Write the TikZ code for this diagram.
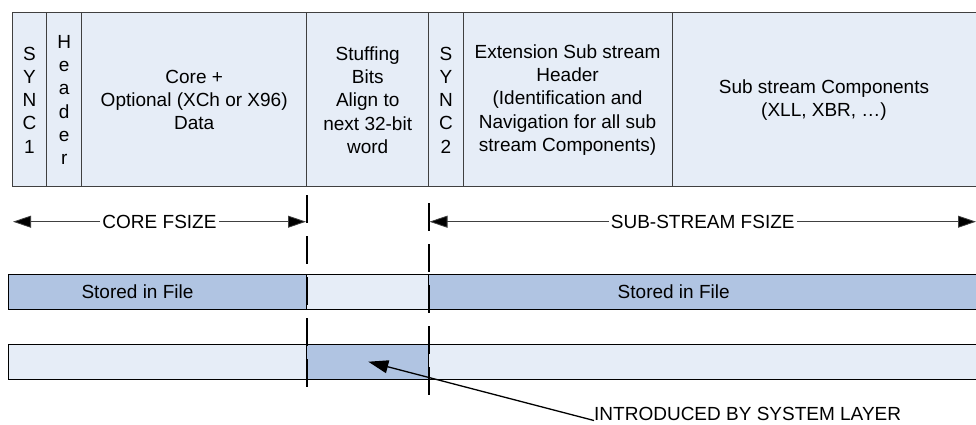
\documentclass[tikz,border=0pt]{standalone}
\usepackage{fontspec}
\setmainfont{Liberation Sans}
\usetikzlibrary{arrows.meta}
\definecolor{paleblue}{RGB}{230,237,247}
\definecolor{fileblue}{RGB}{176,196,226}
\definecolor{edgegrey}{RGB}{64,64,64}
\tikzset{
	field/.style={draw=edgegrey, line width=1pt, fill=paleblue},
	bar/.style={draw=black, line width=1pt},
	fieldtext/.style={font=\fontsize{19}{23.3}\selectfont, align=center, inner sep=0pt},
	sizeline/.style={draw=edgegrey, line width=0.8pt, {Triangle[length=18pt,width=12pt,fill=black]}-{Triangle[length=18pt,width=12pt,fill=black]}},
	boundary/.style={line width=2pt, dash pattern=on 28pt off 13pt},
}

\begin{document}
\begin{tikzpicture}[x=1pt, y=-1pt]
		%%%%% START %%%%%
		\useasboundingbox (0,0) rectangle (976,425);
		
		% frame fields
		\foreach \a/\b in {12.3/46.7, 46.7/81.7, 81.7/306.7, 306.7/428.7, 428.7/463.3, 463.3/672, 672/982}
			\draw[field] (\a,12.3) rectangle (\b,186.7);
		
		\node[fieldtext] (sync1) at (29.5,100) {S\\Y\\N\\C\\1};
		\node[fieldtext] (hdr) at (64.2,100) {H\\e\\a\\d\\e\\r};
		\node[fieldtext] (core) at (194.2,100) {Core +\\Optional (XCh or X96)\\Data};
		\node[fieldtext] (stuff) at (367.7,100) {Stuffing\\Bits\\Align to\\next 32-bit\\word};
		\node[fieldtext] (sync2) at (446,100) {S\\Y\\N\\C\\2};
		\node[fieldtext] (exthdr) at (567.6,100) {Extension Sub stream\\Header\\(Identification and\\Navigation for all sub\\stream Components)};
		\node[fieldtext] (subcomp) at (824,100) {Sub stream Components\\(XLL, XBR, …)};
		
		% stored in file
		\draw[bar, fill=fileblue] (8,274.3) rectangle (306.7,309.3);
		\draw[bar, fill=paleblue] (306.7,274.3) rectangle (428.7,309.3);
		\draw[bar, fill=fileblue] (428.7,274.3) rectangle (982,309.3);
		\node[fieldtext] (stored1) at (137.5,291.8) {Stored in File};
		\node[fieldtext] (stored2) at (673.7,291.8) {Stored in File};
		
		% system layer
		\draw[bar, fill=paleblue] (8,344.3) rectangle (306.7,379);
		\draw[bar, fill=fileblue] (306.7,344.3) rectangle (428.7,379);
		\draw[bar, fill=paleblue] (428.7,344.3) rectangle (982,379);
		
		% boundaries
		\draw[boundary] (306.7,195) -- (306.7,389);
		\draw[boundary] (428.7,203) -- (428.7,397);
		
		% sizes
		\draw[sizeline] (13,221.7) -- node[fieldtext, fill=white, inner xsep=2pt] (coresize) {CORE FSIZE} (306,221.7);
		\draw[sizeline] (429.5,221.7) -- node[fieldtext, fill=white, inner xsep=2pt] (subsize) {SUB-STREAM FSIZE} (976,221.7);
		
		\node[fieldtext, anchor=base west] (intro) at (594,420.5) {INTRODUCED BY SYSTEM LAYER};
		\coordinate (padtip) at (368.3,361.7);
		\draw[line width=1.3pt, -{Triangle[length=20pt,width=13pt]}] (intro.base west) -- (padtip);
		
		%%%%% END %%%%%
	\end{tikzpicture}
\end{document}
